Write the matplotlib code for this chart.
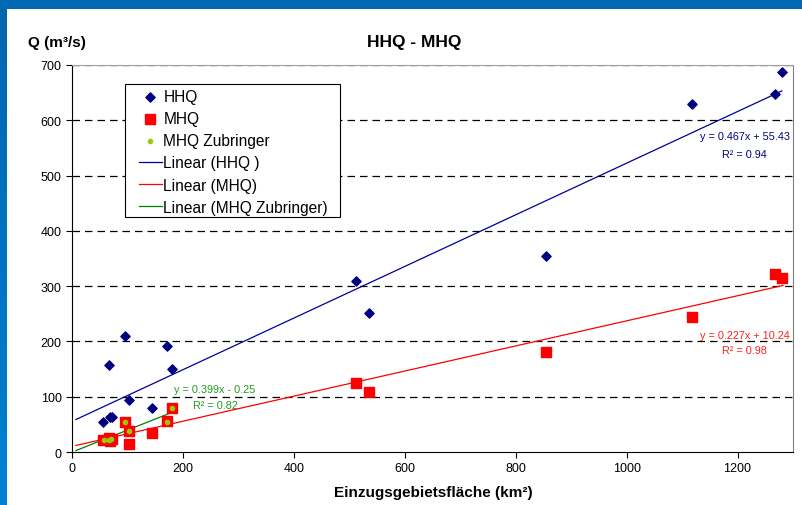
import numpy as np
import matplotlib.pyplot as plt
from matplotlib.patches import Rectangle
from matplotlib.colors import LinearSegmentedColormap

plt.rcParams['font.family'] = ['Liberation Sans', 'DejaVu Sans']

# HHQ points (catchment area km², discharge m³/s)
hhq_area = [56, 67, 68, 73, 95, 102, 145, 172, 180, 512, 535, 854, 1118, 1268, 1280]
hhq_q = [55, 157, 64, 63, 209, 94, 79, 191, 150, 309, 251, 355, 629, 647, 688]

# MHQ points
mhq_area = [56, 67, 68, 72, 95, 102, 103, 145, 172, 180, 512, 535, 854, 1118, 1268, 1280]
mhq_q = [22, 25, 20, 23, 55, 38, 14, 35, 56, 79, 124, 108, 181, 245, 322, 314]

# MHQ Zubringer points
zub_area = [57, 67, 70, 95, 102, 172, 180]
zub_q = [22, 21, 23, 55, 38, 55, 79]

# trend lines as printed in the chart: slope, intercept, x range
fit_hhq = (0.467, 55.43, 7, 1280)
fit_mhq = (0.227, 10.24, 7, 1282)
fit_zub = (0.399, -0.25, 7, 180)

W, H = 803, 506
fig = plt.figure(figsize=(W / 100, H / 100), dpi=100)
fig.patch.set_facecolor('white')

# blue frame at top and left
fig.patches.append(Rectangle((0, 1 - 10 / H), 1, 10 / H, transform=fig.transFigure,
                             facecolor='#0068B2', edgecolor='none', zorder=0))
grad = fig.add_axes([0, 0, 7 / W, 1 - 10 / H])
grad.imshow(np.linspace(0, 1, 100).reshape(-1, 1), aspect='auto',
            cmap=LinearSegmentedColormap.from_list('b', ['#0066AE', '#0082D4']))
grad.axis('off')

ax = fig.add_axes([72 / W, 1 - 453 / H, (793 - 72) / W, (453 - 66) / H])

ax.scatter(hhq_area, hhq_q, marker='D', s=22, color='#000080', zorder=4, label='HHQ')
ax.scatter(mhq_area, mhq_q, marker='s', s=48, color='#FF0000', zorder=3, label='MHQ')
ax.scatter(zub_area, zub_q, marker='o', s=16, color='#99CC00', linewidth=0,
           zorder=5, label='MHQ Zubringer')

for (k, d, x0, x1), col, lab in [(fit_hhq, '#000099', 'Linear (HHQ )'),
                                 (fit_mhq, '#FF0000', 'Linear (MHQ)'),
                                 (fit_zub, '#008000', 'Linear (MHQ Zubringer)')]:
    xs = np.array([x0, x1])
    ax.plot(xs, k * xs + d, color=col, lw=0.9, zorder=2, label=lab)

ax.set_xlim(0, 1300)
ax.set_ylim(0, 700)
ax.set_xticks(range(0, 1201, 200))
ax.set_yticks(range(0, 701, 100))
ax.tick_params(labelsize=9, length=4, direction='out', width=0.8)
for y in range(100, 701, 100):
    ax.axhline(y, color='black', lw=0.9, ls=(0, (6, 4)), zorder=1)
ax.spines['left'].set_color('black')
ax.spines['bottom'].set_color('black')
ax.spines['right'].set_color('#808080')
ax.spines['top'].set_color('#A0A0A0')

eq = dict(fontsize=7.8, ha='center', va='center')
ax.text(1213, 571, 'y = 0.467x + 55.43', color='#000080', **eq)
ax.text(1213, 539, 'R² = 0.94', color='#000080', **eq)
ax.text(1213, 212, 'y = 0.227x + 10.24', color='#FF2020', **eq)
ax.text(1213, 184, 'R² = 0.98', color='#FF2020', **eq)
ax.text(258, 114, 'y = 0.399x - 0.25', color='#229922', **eq)
ax.text(258, 85, 'R² = 0.82', color='#229922', **eq)

# legend without its own frame, plus a hand-placed box like the original
aw, ah = 793 - 72, 453 - 66
ax.legend(loc='upper left', bbox_to_anchor=((139 - 72) / aw, (453 - 90) / ah), fontsize=11.2,
          frameon=False, handlelength=1.45, handletextpad=0.12, borderpad=0,
          labelspacing=0.46, borderaxespad=0)
ax.add_patch(Rectangle(((125 - 72) / aw, (453 - 218) / ah), (340 - 125) / aw, (218 - 85) / ah,
                       transform=ax.transAxes, facecolor='white', edgecolor='black',
                       lw=0.8, zorder=6))
ax.get_legend().set_zorder(7)

fig.text(414 / W, 1 - 42 / H, 'HHQ - MHQ', fontsize=12.5, fontweight='bold', ha='center', va='center')
fig.text(28 / W, 1 - 43 / H, 'Q (m³/s)', fontsize=11, fontweight='bold', ha='left', va='center')
fig.text(433 / W, 1 - 493 / H, 'Einzugsgebietsfläche (km²)', fontsize=11, fontweight='bold',
         ha='center', va='center')

fig.savefig('out.png', dpi=100)
